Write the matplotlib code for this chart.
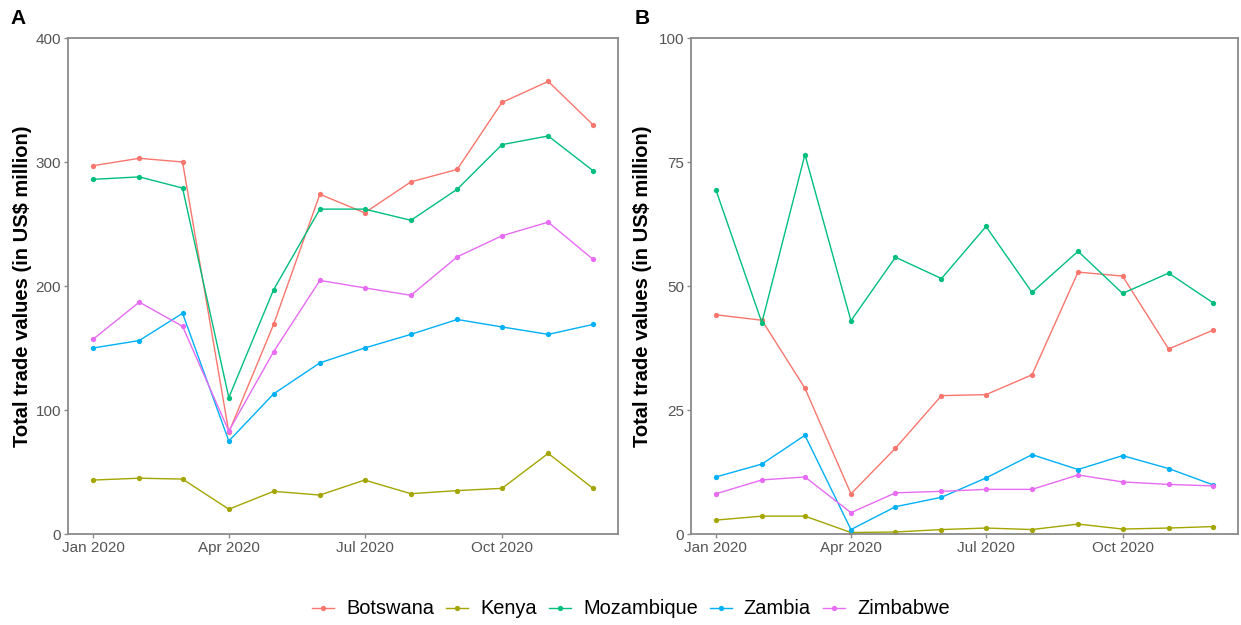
import numpy as np
import pandas as pd
import matplotlib
matplotlib.use("Agg")
import matplotlib.pyplot as plt
import matplotlib.dates as mdates

plt.rcParams['font.family'] = ['Liberation Sans', 'DejaVu Sans']

months = pd.date_range("2020-01-01", periods=12, freq="MS")
countries = ["Botswana", "Kenya", "Mozambique", "Zambia", "Zimbabwe"]
colors = ["#F8766D", "#A3A500", "#00BF7D", "#00B0F6", "#E76BF3"]

# panel A values (US$ million)
botswana_a = [297, 303, 300, 82, 169, 274, 259, 284, 294, 348, 365, 330]
kenya_a = [43.5, 45, 44.3, 20, 34.4, 31.4, 43.5, 32.5, 35, 36.8, 65, 36.8]
mozambique_a = [286, 288, 279, 110, 197, 262, 262, 253, 278, 314, 321, 293]
zambia_a = [150, 156, 178, 75, 113, 138, 150, 161, 173, 167, 161, 169]
zimbabwe_a = [157, 187, 167.5, 83, 147, 204.5, 198.5, 192.5, 223.5, 240.5, 251.5, 221.5]

# panel B values (US$ million)
botswana_b = [44.2, 43.1, 29.4, 8.1, 17.3, 27.9, 28.1, 32.1, 52.8, 52.0, 37.3, 41.1]
kenya_b = [2.8, 3.6, 3.6, 0.3, 0.4, 0.9, 1.2, 0.9, 2.0, 1.0, 1.2, 1.5]
mozambique_b = [69.4, 42.6, 76.5, 43.0, 55.8, 51.5, 62.0, 48.7, 57.0, 48.5, 52.6, 46.6]
zambia_b = [11.5, 14.1, 19.9, 0.9, 5.5, 7.4, 11.3, 16.0, 13.0, 15.8, 13.2, 9.9]
zimbabwe_b = [8.1, 10.9, 11.5, 4.3, 8.3, 8.6, 9.0, 9.0, 11.9, 10.5, 10.0, 9.7]

panel_a = [botswana_a, kenya_a, mozambique_a, zambia_a, zimbabwe_a]
panel_b = [botswana_b, kenya_b, mozambique_b, zambia_b, zimbabwe_b]

W, H = 1241, 625
fig = plt.figure(figsize=(W / 100, H / 100), dpi=100)


def px_axes(x0, y0, x1, y1):
    return fig.add_axes([x0 / W, 1 - y1 / H, (x1 - x0) / W, (y1 - y0) / H])


ax_a = px_axes(68, 38, 618, 534)
ax_b = px_axes(691, 38, 1238, 534)

span = (months[-1] - months[0]).days
pad = pd.Timedelta(days=span * 0.05)
xticks = pd.to_datetime(["2020-01-01", "2020-04-01", "2020-07-01", "2020-10-01"])

handles = []
for ax, data, ymax, yticks, ylab_x in [
        (ax_a, panel_a, 400, [0, 100, 200, 300, 400], 23),
        (ax_b, panel_b, 100, [0, 25, 50, 75, 100], 643)]:
    handles = []
    for name, vals, c in zip(countries, data, colors):
        h, = ax.plot(months, vals, color=c, lw=1.0, marker="o", ms=3.8,
                     markeredgewidth=0, label=name)
        handles.append(h)
    ax.set_xlim(months[0] - pad, months[-1] + pad)
    ax.set_ylim(0, ymax)
    ax.set_yticks(yticks)
    ax.set_xticks(xticks)
    ax.xaxis.set_major_formatter(mdates.DateFormatter("%b %Y"))
    for s in ax.spines.values():
        s.set_color("#8a8a8a")
        s.set_linewidth(1.3)
    ax.tick_params(axis="both", colors="#8a8a8a", labelcolor="#555555",
                   labelsize=11, length=3, width=1, pad=2)
    ax.set_ylabel("Total trade values (in US$ million)", fontsize=14.5,
                  fontweight="bold", va="center")
    x0 = ax.get_position().x0 * W
    ax.yaxis.set_label_coords((ylab_x - x0) / (ax.get_position().width * W), 0.5)

fig.text(10 / W, 1 - 18 / H, "A", fontsize=15, fontweight="bold", va="center")
fig.text(635 / W, 1 - 18 / H, "B", fontsize=15, fontweight="bold", va="center")

fig.legend(handles=handles, labels=countries, loc="center",
           bbox_to_anchor=(631 / W, 1 - 609 / H), ncol=5, frameon=False,
           fontsize=14.4, handlelength=1.1, handletextpad=0.6,
           columnspacing=0.6, borderpad=0, borderaxespad=0)

fig.savefig("out.png", dpi=100)
